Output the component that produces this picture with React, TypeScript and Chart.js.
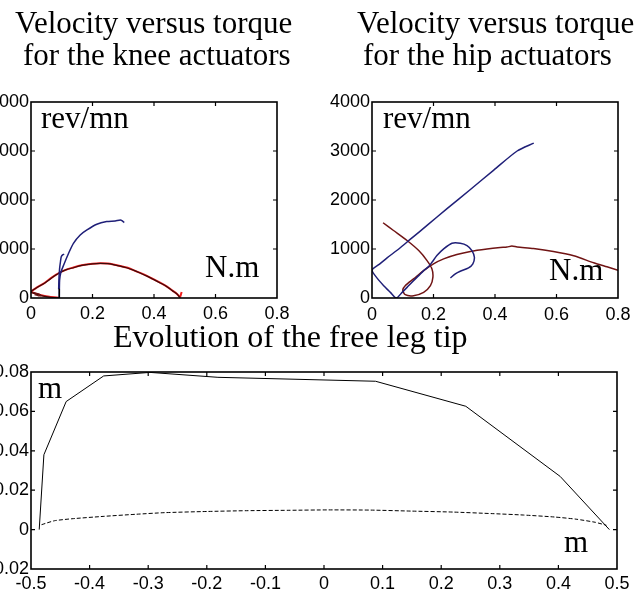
import React, { useEffect, useRef } from "react";
import { Chart, registerables } from "chart.js";

Chart.register(...registerables);

// ---------------- DATA ----------------
// Axis ticks
const torqueTicks = [0, 0.2, 0.4, 0.6, 0.8];
const torqueTickLabels = ["0", "0.2", "0.4", "0.6", "0.8"];
const velocityTicks = [0, 1000, 2000, 3000, 4000];
const velocityTickLabels = ["0", "1000", "2000", "3000", "4000"];
const legXTicks = [-0.5, -0.4, -0.3, -0.2, -0.1, 0, 0.1, 0.2, 0.3, 0.4, 0.5];
const legXTickLabels = ["-0.5", "-0.4", "-0.3", "-0.2", "-0.1", "0", "0.1", "0.2", "0.3", "0.4", "0.5"];
const legYTicks = [-0.02, 0, 0.02, 0.04, 0.06, 0.08];
const legYTickLabels = ["-0.02", "0", "0.02", "0.04", "0.06", "0.08"];

// Knee actuators (torque N.m, velocity rev/mn)
const kneeRedX = [0.093, 0.06, 0.03, 0.01, 0, 0.018, 0.041, 0.066, 0.093, 0.115, 0.138, 0.165, 0.2, 0.225, 0.25, 0.268, 0.29, 0.311, 0.333, 0.355, 0.377, 0.398, 0.42, 0.441, 0.46, 0.474, 0.484, 0.487, 0.49];
const kneeRedY = [5, 25, 60, 100, 125, 210, 294, 410, 520, 580, 622, 668, 700, 711, 703, 684, 655, 622, 570, 513, 450, 383, 312, 239, 150, 89, 20, 60, 123];
const kneeDarkX = [0.093, 0.06, 0.03, 0.01, 0, 0.02, 0.041, 0.066, 0.093, 0.115, 0.138, 0.165, 0.2, 0.225, 0.25, 0.268, 0.29, 0.311, 0.333, 0.355, 0.377, 0.398, 0.42, 0.441, 0.46, 0.474, 0.484];
const kneeDarkY = [0, 20, 55, 95, 130, 215, 290, 405, 515, 578, 618, 665, 698, 708, 700, 682, 652, 618, 568, 510, 447, 380, 308, 236, 148, 86, 15];
const kneeScribbleX = [0.004, 0.015, 0.028, 0.033, 0.024, 0.012];
const kneeScribbleY = [120, 100, 75, 50, 45, 70];
const kneeBlueX = [0.092, 0.093, 0.097, 0.106, 0.122, 0.138, 0.16, 0.182, 0.214, 0.246, 0.274, 0.29, 0.297, 0.303];
const kneeBlueY = [0, 362, 520, 670, 909, 1115, 1285, 1388, 1504, 1559, 1573, 1593, 1575, 1538];
const kneeHookX = [0.09, 0.091, 0.093, 0.096, 0.0984, 0.103, 0.108];
const kneeHookY = [180, 400, 600, 750, 841, 880, 893];
const kneeBlackX = [0.092, 0.092];
const kneeBlackY = [0, 190];

// Hip actuators
const hipBlueX = [0.526, 0.472, 0.396, 0.32, 0.244, 0.179, 0.125, 0.087, 0.049, 0.022, 0, 0.016, 0.038, 0.06, 0.079, 0.098, 0.114, 0.135, 0.152, 0.168, 0.184, 0.195, 0.211, 0.233, 0.26, 0.287, 0.309, 0.325, 0.333, 0.328, 0.314, 0.287, 0.271, 0.255];
const hipBlueY = [3160, 3000, 2610, 2215, 1823, 1481, 1200, 1000, 820, 680, 568, 410, 252, 115, 0, 115, 217, 354, 457, 559, 641, 729, 866, 1003, 1118, 1118, 1071, 968, 831, 696, 614, 545, 492, 410];
const hipBrownX = [0.036, 0.07, 0.114, 0.152, 0.179, 0.195, 0.198, 0.19, 0.168, 0.135, 0.108, 0.1, 0.108, 0.135, 0.168, 0.2, 0.233, 0.276, 0.32, 0.374, 0.417, 0.439, 0.455, 0.472, 0.525, 0.59, 0.656, 0.721, 0.764, 0.8];
const hipBrownY = [1536, 1378, 1174, 969, 764, 594, 422, 252, 115, 47, 68, 164, 252, 389, 559, 696, 798, 887, 950, 1000, 1030, 1040, 1060, 1040, 1010, 950, 862, 718, 636, 568];

// Free leg tip (m)
const tipSolidX = [-0.486, -0.478, -0.44, -0.376, -0.297, -0.181, 0.088, 0.242, 0.403, 0.487];
const tipSolidY = [0, 0.038, 0.065, 0.078, 0.0798, 0.0773, 0.0753, 0.0626, 0.027, 0];
const tipDashX = [-0.482, -0.46, -0.43, -0.377, -0.32, -0.272, -0.2, -0.132, -0.06, 0.008, 0.08, 0.148, 0.22, 0.288, 0.34, 0.393, 0.43, 0.463, 0.482];
const tipDashY = [0.0025, 0.0045, 0.0055, 0.0067, 0.0078, 0.0086, 0.0092, 0.0096, 0.0098, 0.01, 0.0099, 0.0094, 0.0089, 0.0081, 0.0074, 0.0064, 0.0053, 0.0037, 0.0022];

// ---------------- STYLE ----------------
const W = 644;
const H = 596;
const TICK_FONT = "'Liberation Sans', Arial, sans-serif";
const SERIF = "'Liberation Serif', 'Times New Roman', serif";
const NAVY = "#1f1f78";
const BROWN = "#701414";
const RED = "#f02020";
const DARK = "#3c0a0a";

const pts = (xs: number[], ys: number[]) => xs.map((x, i) => ({ x, y: ys[i] }));

function line(xs: number[], ys: number[], color: string, width: number, order: number, tension = 0.25, dash: number[] = []) {
  return {
    data: pts(xs, ys),
    showLine: true,
    pointRadius: 0,
    borderColor: color,
    backgroundColor: color,
    borderWidth: width,
    tension,
    fill: false,
    borderDash: dash,
    order,
  };
}

function axis(pos: "left" | "bottom", min: number, max: number, ticks: number[], labels: string[], size: number, pad: number) {
  return {
    type: "linear",
    position: pos,
    min,
    max,
    grid: { display: false, drawTicks: false },
    border: { display: false },
    afterBuildTicks: (s: any) => {
      s.ticks = ticks.map((v) => ({ value: v }));
    },
    afterFit: (s: any) => {
      if (pos === "left") s.width = size;
      else s.height = size;
    },
    ticks: {
      autoSkip: false,
      maxRotation: 0,
      minRotation: 0,
      padding: pad,
      color: "#000",
      font: { family: TICK_FONT, size: 18 },
      callback: (_v: any, i: number) => labels[i] ?? "",
    },
  };
}

const framePlugin = {
  id: "frame",
  afterDatasetsDraw(chart: any) {
    const { ctx, chartArea: a, scales } = chart;
    const xs = scales.x;
    const ys = scales.y;
    const L = 4;
    ctx.save();
    ctx.strokeStyle = "#000";
    ctx.lineWidth = 1.2;
    ctx.beginPath();
    xs.ticks.forEach((t: any) => {
      const p = xs.getPixelForValue(t.value);
      if (p <= a.left + 1 || p >= a.right - 1) return;
      ctx.moveTo(p, a.bottom);
      ctx.lineTo(p, a.bottom - L);
      ctx.moveTo(p, a.top);
      ctx.lineTo(p, a.top + L);
    });
    ys.ticks.forEach((t: any) => {
      const p = ys.getPixelForValue(t.value);
      if (p <= a.top + 1 || p >= a.bottom - 1) return;
      ctx.moveTo(a.left, p);
      ctx.lineTo(a.left + L, p);
      ctx.moveTo(a.right, p);
      ctx.lineTo(a.right - L, p);
    });
    ctx.stroke();
    ctx.lineWidth = 1.6;
    ctx.strokeRect(a.left, a.top, a.right - a.left, a.bottom - a.top);
    ctx.restore();
  },
};

function makeConfig(datasets: any[], x: any, y: any, padding: any) {
  return {
    type: "scatter",
    data: { datasets },
    options: {
      animation: false,
      responsive: false,
      events: [],
      layout: { padding },
      plugins: { legend: { display: false }, tooltip: { enabled: false }, title: { display: false } },
      scales: { x, y },
    },
    plugins: [framePlugin],
  };
}

// higher "order" is drawn first (underneath)
const kneeConfig = () =>
  makeConfig(
    [
      line(kneeRedX, kneeRedY, RED, 2, 6),
      line(kneeDarkX, kneeDarkY, DARK, 1.2, 5),
      line(kneeScribbleX, kneeScribbleY, BROWN, 1.2, 4),
      line(kneeBlueX, kneeBlueY, NAVY, 1.5, 3),
      line(kneeHookX, kneeHookY, NAVY, 1.5, 2),
      line(kneeBlackX, kneeBlackY, "#000", 1.5, 1, 0),
    ],
    axis("bottom", 0, 0.8, torqueTicks, torqueTickLabels, 30, 5),
    axis("left", 0, 4000, velocityTicks, velocityTickLabels, 31, 2),
    { left: 0, right: W - 277, top: 102, bottom: H - 298 - 30 }
  );

const hipConfig = () =>
  makeConfig(
    [line(hipBrownX, hipBrownY, BROWN, 1.5, 2), line(hipBlueX, hipBlueY, NAVY, 1.5, 1)],
    axis("bottom", 0, 0.8, torqueTicks, torqueTickLabels, 30, 6),
    axis("left", 0, 4000, velocityTicks, velocityTickLabels, 50, 2),
    { left: 372 - 50, right: W - 618, top: 102, bottom: H - 298 - 30 }
  );

const tipConfig = () =>
  makeConfig(
    [line(tipSolidX, tipSolidY, "#000", 1, 1, 0), line(tipDashX, tipDashY, "#000", 1, 2, 0.2, [4, 2])],
    axis("bottom", -0.5, 0.5, legXTicks, legXTickLabels, 20, 4),
    axis("left", -0.02, 0.08, legYTicks, legYTickLabels, 31, 2),
    { left: 0, right: W - 617, top: 372, bottom: H - 569 - 20 }
  );

function ChartCanvas({ make }: { make: () => any }) {
  const ref = useRef<HTMLCanvasElement>(null);
  useEffect(() => {
    const chart = new Chart(ref.current as HTMLCanvasElement, make());
    return () => chart.destroy();
  }, [make]);
  return <canvas ref={ref} width={W} height={H} style={{ position: "absolute", left: 0, top: 0, display: "block" }} />;
}

function Txt({ x, base, size, children }: { x: number; base: number; size: number; children: React.ReactNode }) {
  return (
    <div
      style={{
        position: "absolute",
        left: x,
        top: base - 0.8375 * size,
        fontFamily: SERIF,
        fontSize: size,
        lineHeight: `${size}px`,
        whiteSpace: "nowrap",
        color: "#000",
      }}
    >
      {children}
    </div>
  );
}

export default function App() {
  return (
    <div style={{ position: "absolute", left: 0, top: 0, width: W, height: H, overflow: "hidden", background: "#fff" }}>
      <ChartCanvas make={kneeConfig} />
      <ChartCanvas make={hipConfig} />
      <ChartCanvas make={tipConfig} />
      <Txt x={15} base={33} size={31}>Velocity versus torque</Txt>
      <Txt x={23} base={65} size={31}>for the knee actuators</Txt>
      <Txt x={357} base={33} size={31}>Velocity versus torque</Txt>
      <Txt x={363} base={65} size={31}>for the hip actuators</Txt>
      <Txt x={113} base={347} size={32}>Evolution of the free leg tip</Txt>
      <Txt x={41} base={128} size={31}>rev/mn</Txt>
      <Txt x={383} base={128} size={31}>rev/mn</Txt>
      <Txt x={205} base={277} size={31}>N.m</Txt>
      <Txt x={549} base={280} size={31}>N.m</Txt>
      <Txt x={38} base={398} size={31}>m</Txt>
      <Txt x={564} base={552} size={31}>m</Txt>
    </div>
  );
}
